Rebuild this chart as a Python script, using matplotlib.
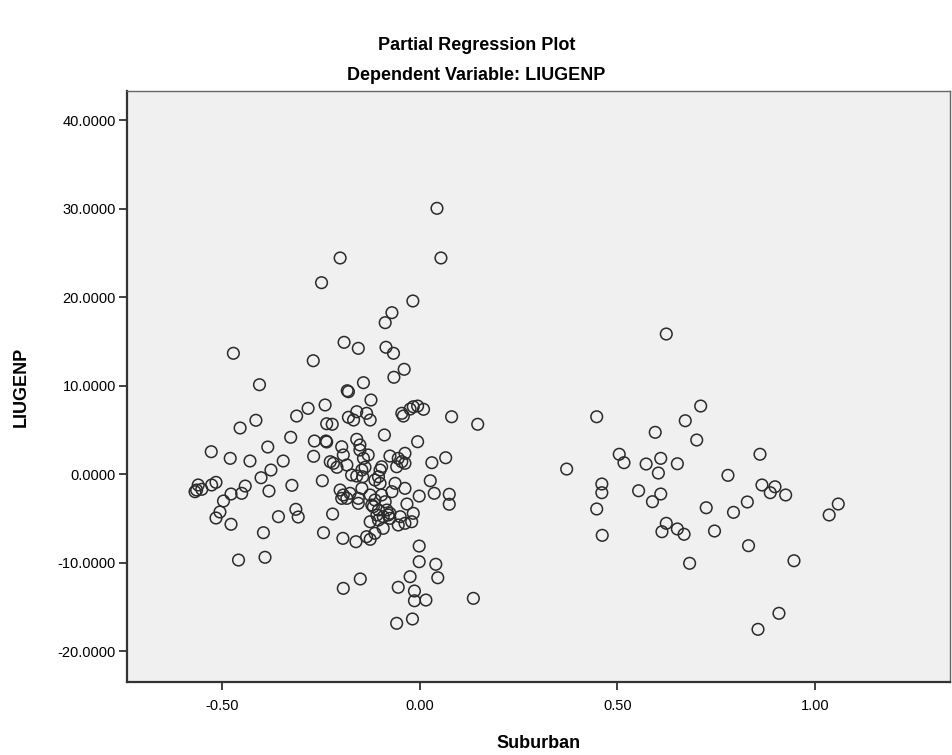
import numpy as np
import matplotlib
matplotlib.use("Agg")
import matplotlib.pyplot as plt

plt.rcParams["font.family"] = ["Liberation Sans Narrow", "Liberation Sans", "DejaVu Sans"]

# ---- partial residuals: Suburban (x) vs LIUGENP (y) ----
# high points
x_top = [0.044, 0.054, -0.201, -0.248, -0.017, -0.070, -0.087, -0.191, -0.155, -0.085,
         -0.066, -0.471, -0.269, -0.039, -0.065, -0.142, -0.405]
y_top = [30.02, 24.41, 24.41, 21.62, 19.55, 18.23, 17.10, 14.88, 14.20, 14.32,
         13.64, 13.64, 12.80, 11.83, 10.93, 10.32, 10.09]

# middle band, group 0
x_mid = [-0.183, -0.180, -0.123, -0.239, -0.282, -0.016, -0.005, 0.010, -0.024, -0.045,
         -0.041, 0.081, 0.147, -0.159, -0.134, -0.125, -0.180, -0.167, -0.311, -0.414,
         -0.454, -0.235, -0.221, -0.089, -0.005, -0.326, -0.266, -0.237, -0.235, -0.159,
         -0.151, -0.151, -0.197, -0.193, -0.130, -0.142, -0.384, -0.527, -0.479, -0.429,
         -0.345, -0.268, -0.226, -0.218, -0.209, -0.184, -0.075, -0.054, -0.037, -0.045,
         -0.037, -0.058, 0.031, 0.066, -0.138, -0.146, -0.100, -0.096, -0.104, -0.172,
         -0.159, -0.144, -0.113, -0.100, -0.376, -0.401, -0.246, 0.027, -0.062, -0.037,
         -0.070]
y_mid = [9.41, 9.30, 8.36, 7.80, 7.42, 7.60, 7.68, 7.31, 7.34, 6.86,
         6.55, 6.47, 5.62, 7.04, 6.86, 6.10, 6.41, 6.10, 6.55, 6.07,
         5.20, 5.68, 5.62, 4.41, 3.65, 4.15, 3.73, 3.73, 3.62, 3.92,
         3.28, 2.71, 3.08, 2.15, 2.15, 1.77, 3.05, 2.52, 1.77, 1.47,
         1.47, 2.00, 1.39, 1.21, 0.76, 1.02, 2.03, 1.77, 2.34, 1.39,
         1.21, 0.82, 1.28, 1.84, 0.76, 0.45, 0.45, 0.82, -0.31, -0.11,
         -0.23, -0.31, -0.68, -1.05, 0.45, -0.42, -0.76, -0.76, -1.05, -1.62,
         -2.00]

# lower band, group 0
x_low = [-0.560, -0.564, -0.551, -0.568, -0.526, -0.515, -0.441, -0.477, -0.450, -0.381,
         -0.323, -0.496, -0.505, -0.515, -0.357, -0.313, -0.307, -0.220, -0.201, -0.193,
         -0.184, -0.197, -0.176, -0.155, -0.155, -0.146, -0.125, -0.113, -0.121, -0.096,
         -0.087, -0.117, -0.104, -0.108, -0.001, 0.037, 0.075, 0.075, -0.032, -0.016,
         -0.049, -0.075, -0.092, -0.083, -0.243, -0.194, -0.161, -0.134, -0.125, -0.113,
         -0.092, -0.125, -0.104, -0.079, -0.075, -0.054, -0.037, -0.020, -0.001, -0.001,
         0.041, 0.046, -0.024, -0.150, -0.193, -0.054, -0.013, -0.013, 0.016, 0.136,
         -0.058, -0.018, -0.477, -0.395, -0.458, -0.391]
y_low = [-1.24, -1.81, -1.73, -2.00, -1.24, -0.94, -1.36, -2.26, -2.18, -1.92,
         -1.28, -3.05, -4.29, -4.97, -4.82, -3.99, -4.86, -4.52, -1.81, -2.37,
         -2.75, -2.75, -2.18, -2.75, -3.31, -1.62, -2.37, -2.94, -3.50, -2.37,
         -3.13, -3.69, -4.07, -4.63, -2.49, -2.18, -2.29, -3.42, -3.39, -4.44,
         -4.82, -4.44, -4.82, -4.07, -6.63, -7.27, -7.65, -7.08, -7.38, -6.70,
         -6.14, -5.39, -5.20, -4.63, -5.01, -5.76, -5.57, -5.39, -8.14, -9.91,
         -10.20, -11.72, -11.60, -11.86, -12.92, -12.80, -13.22, -14.32, -14.24, -14.05,
         -16.87, -16.38, -5.68, -6.63, -9.72, -9.41]

# group 1 (suburban)
x_sub = [0.624, 0.711, 0.672, 0.448, 0.596, 0.701, 0.505, 0.517, 0.573, 0.610,
         0.652, 0.604, 0.372, 0.780, 0.461, 0.461, 0.448, 0.462, 0.554, 0.610,
         0.589, 0.624, 0.613, 0.652, 0.669, 0.683, 0.725, 0.794, 0.746, 0.861,
         0.866, 0.899, 0.887, 0.926, 0.829, 1.059, 1.036, 0.832, 0.947, 0.909,
         0.856]
y_sub = [15.82, 7.68, 6.02, 6.47, 4.71, 3.84, 2.23, 1.28, 1.13, 1.77,
         1.16, 0.11, 0.56, -0.15, -1.13, -2.11, -3.95, -6.93, -1.89, -2.26,
         -3.13, -5.57, -6.52, -6.21, -6.81, -10.09, -3.81, -4.33, -6.44, 2.23,
         -1.24, -1.44, -2.11, -2.37, -3.16, -3.39, -4.63, -8.10, -9.80, -15.74,
         -17.55]

y_ticks = [-20, -10, 0, 10, 20, 30, 40]
x_ticks = [-0.5, 0.0, 0.5, 1.0]

xs = np.array(x_top + x_mid + x_low + x_sub)
ys = np.array(y_top + y_mid + y_low + y_sub)

fig = plt.figure(figsize=(9.53, 7.55), dpi=100)
ax = fig.add_axes([0.1333, 0.0967, 0.8637, 0.7828])
ax.set_facecolor("#f0f0f0")

ax.scatter(xs, ys, s=70, facecolors="none", edgecolors="#2b2b2b", linewidths=1.1)

ax.set_xlim(-0.740, 1.342)
ax.set_ylim(-23.5, 43.28)
ax.set_xticks(x_ticks)
ax.set_xticklabels(["%.2f" % v for v in x_ticks])
ax.set_yticks(y_ticks)
ax.set_yticklabels(["%.4f" % v for v in y_ticks])
ax.tick_params(axis="both", direction="out", length=6, width=1.3, color="#333333",
               labelsize=10.5, pad=2)
ax.tick_params(axis="x", pad=6)

for side in ["left", "bottom"]:
    ax.spines[side].set_color("#333333")
    ax.spines[side].set_linewidth(1.6)
for side in ["top", "right"]:
    ax.spines[side].set_color("#666666")
    ax.spines[side].set_linewidth(1.0)

ax.set_xlabel("Suburban", fontsize=13, fontweight="bold", labelpad=16)
ax.set_ylabel("LIUGENP", fontsize=13, fontweight="bold", labelpad=20)

fig.text(0.5, 0.94, "Partial Regression Plot", ha="center", va="center",
         fontsize=13, fontweight="bold")
fig.text(0.5, 0.90, "Dependent Variable: LIUGENP", ha="center", va="center",
         fontsize=13, fontweight="bold")

plt.savefig("out.png", dpi=100)
plt.close()
